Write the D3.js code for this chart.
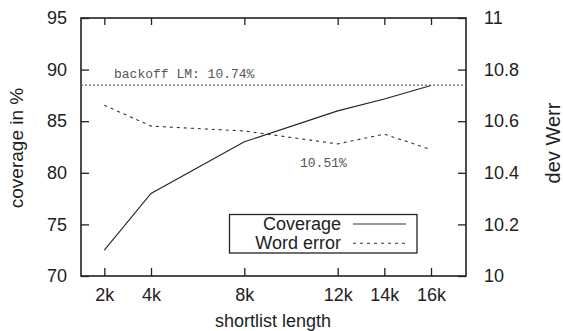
<!DOCTYPE html>
<html lang="en">
<head>
<meta charset="utf-8">
<script src="https://cdn.jsdelivr.net/npm/d3@7"></script>
<style type="text/css">
    body { margin: 0; background: #fff; }
    .axis text {
        font-family: "Liberation Sans", Arial, sans-serif;
        font-size: 18px;
        fill: #222;
    }
    .axis line { stroke: #222; stroke-width: 1.3px; }
    .axis path { display: none; }
</style>
</head>
<body>
<script>
// shortlist length in thousands
const shortlist = [2, 4, 8, 12, 14, 16];
const xTickLabels = ["2k", "4k", "8k", "12k", "14k", "16k"];
const coverage = [72.5, 78.0, 83.0, 86.0, 87.15, 88.45];
const wordError = [10.662, 10.581, 10.562, 10.512, 10.55, 10.49];
const backoffWer = 10.74;
const bestLabel = "10.51%";
const leftTicks = [70, 75, 80, 85, 90, 95];
const rightTicks = [10, 10.2, 10.4, 10.6, 10.8, 11];
const seriesNames = ["Coverage", "Word error"];

const w = 563, h = 331;
const padLeft = 81, padRight = 466, padTop = 18, padBottom = 276;

const svg = d3.select("body").append("svg")
    .attr("width", w)
    .attr("height", h);

const xScale = d3.scaleLinear().domain([1, 17.5]).range([padLeft, padRight]);
const yLeft = d3.scaleLinear().domain([70, 95]).range([padBottom, padTop]);
const yRight = d3.scaleLinear().domain([10, 11]).range([padBottom, padTop]);

const fmtK = (d) => xTickLabels[shortlist.indexOf(d)];

// axes, ticks pointing inward
svg.append("g")
    .attr("class", "axis")
    .attr("transform", "translate(0," + padBottom + ")")
    .call(d3.axisBottom(xScale).tickValues(shortlist).tickFormat(fmtK)
        .tickSizeInner(-8).tickSizeOuter(0).tickPadding(12));

svg.append("g")
    .attr("class", "axis")
    .attr("transform", "translate(0," + padTop + ")")
    .call(d3.axisTop(xScale).tickValues(shortlist).tickFormat("")
        .tickSizeInner(-7).tickSizeOuter(0));

svg.append("g")
    .attr("class", "axis")
    .attr("transform", "translate(" + padLeft + ",0)")
    .call(d3.axisLeft(yLeft).tickValues(leftTicks).tickFormat(d3.format("d"))
        .tickSizeInner(-8).tickSizeOuter(0).tickPadding(14));

svg.append("g")
    .attr("class", "axis")
    .attr("transform", "translate(" + padRight + ",0)")
    .call(d3.axisRight(yRight).tickValues(rightTicks).tickFormat((d) => String(+d.toFixed(1)))
        .tickSizeInner(-8).tickSizeOuter(0).tickPadding(18));

// frame
svg.append("rect")
    .attr("x", padLeft).attr("y", padTop)
    .attr("width", padRight - padLeft).attr("height", padBottom - padTop)
    .attr("fill", "none")
    .attr("stroke", "#222")
    .attr("stroke-width", 1.6);

// backoff reference line
svg.append("line")
    .attr("x1", padLeft).attr("x2", padRight)
    .attr("y1", yRight(backoffWer)).attr("y2", yRight(backoffWer))
    .attr("stroke", "#666")
    .attr("stroke-width", 1.2)
    .attr("stroke-dasharray", "2,2");

svg.append("text")
    .attr("x", 114).attr("y", 78)
    .attr("font-family", "'Liberation Mono', 'Courier New', monospace")
    .attr("font-size", "13px")
    .attr("fill", "#555")
    .text("backoff LM: " + backoffWer.toFixed(2) + "%");

svg.append("text")
    .attr("x", 300).attr("y", 167)
    .attr("font-family", "'Liberation Mono', 'Courier New', monospace")
    .attr("font-size", "13px")
    .attr("fill", "#555")
    .text(bestLabel);

const covLine = d3.line()
    .x((d, i) => xScale(shortlist[i]))
    .y((d) => yLeft(d));
const werLine = d3.line()
    .x((d, i) => xScale(shortlist[i]))
    .y((d) => yRight(d));

svg.append("path")
    .datum(coverage)
    .attr("d", covLine)
    .attr("fill", "none")
    .attr("stroke", "#222")
    .attr("stroke-width", 1.1);

svg.append("path")
    .datum(wordError)
    .attr("d", werLine)
    .attr("fill", "none")
    .attr("stroke", "#333")
    .attr("stroke-width", 1.1)
    .attr("stroke-dasharray", "3,4");

// legend
const legend = svg.append("g");
legend.append("rect")
    .attr("x", 229.5).attr("y", 214.5)
    .attr("width", 187.5).attr("height", 38.5)
    .attr("fill", "#fff")
    .attr("stroke", "#222")
    .attr("stroke-width", 1.3);

seriesNames.forEach((name, i) => {
    let cy = 224 + i * 19.3;
    legend.append("text")
        .attr("x", 341).attr("y", cy + 6)
        .attr("text-anchor", "end")
        .attr("font-family", "'Liberation Sans', Arial, sans-serif")
        .attr("font-size", "18px")
        .attr("fill", "#222")
        .text(name);
    legend.append("line")
        .attr("x1", 353).attr("x2", 406)
        .attr("y1", cy).attr("y2", cy)
        .attr("stroke", "#333")
        .attr("stroke-width", 1.1)
        .attr("stroke-dasharray", i === 0 ? null : "3,4");
});

// axis titles
svg.append("text")
    .attr("transform", "translate(23,148) rotate(-90)")
    .attr("text-anchor", "middle")
    .attr("font-family", "'Liberation Sans', Arial, sans-serif")
    .attr("font-size", "19px")
    .attr("fill", "#222")
    .text("coverage in %");

svg.append("text")
    .attr("transform", "translate(560,143) rotate(-90)")
    .attr("text-anchor", "middle")
    .attr("font-family", "'Liberation Sans', Arial, sans-serif")
    .attr("font-size", "20px")
    .attr("fill", "#222")
    .text("dev Werr");

svg.append("text")
    .attr("x", 273).attr("y", 327)
    .attr("text-anchor", "middle")
    .attr("font-family", "'Liberation Sans', Arial, sans-serif")
    .attr("font-size", "18px")
    .attr("fill", "#222")
    .text("shortlist length");
</script>
</body>
</html>
